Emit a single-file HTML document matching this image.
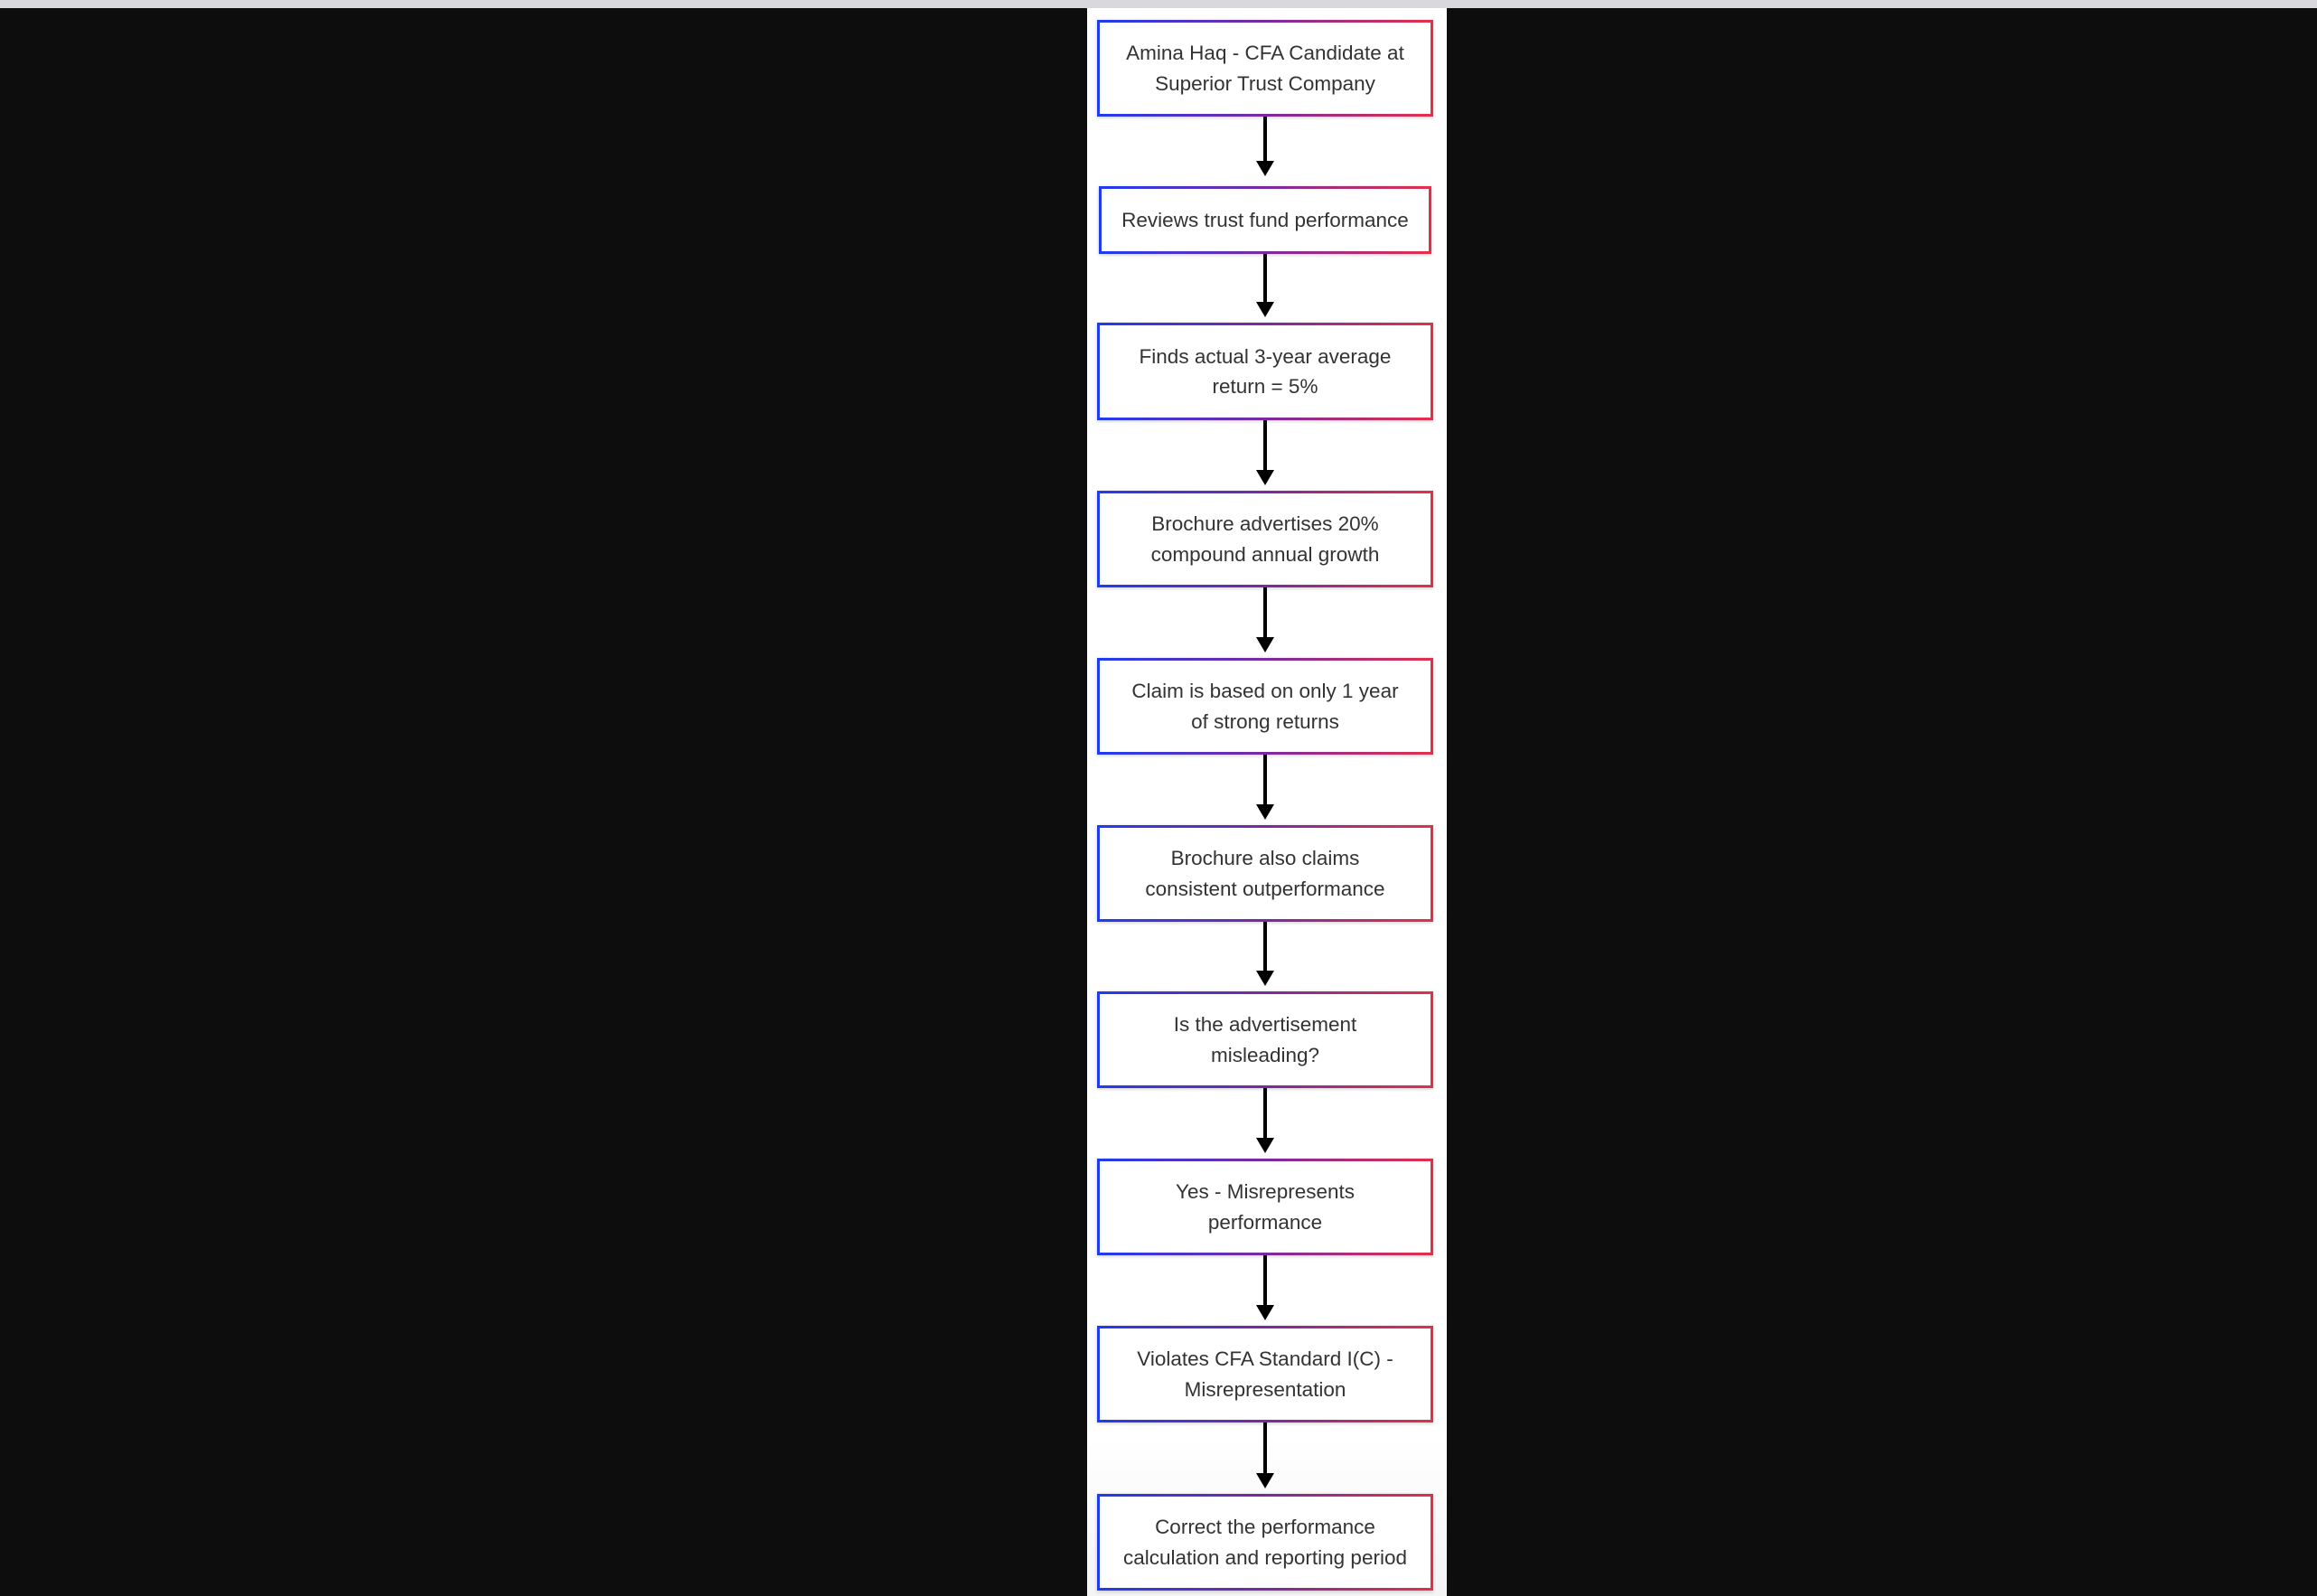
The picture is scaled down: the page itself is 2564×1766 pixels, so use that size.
<!DOCTYPE html>
<html><head><meta charset="utf-8"><style>
html,body{margin:0;padding:0}
body{width:2564px;height:1766px;background:#0d0d0d;position:relative;overflow:hidden;font-family:"Liberation Sans",Arial,sans-serif}
.top{position:absolute;left:0;top:0;width:2564px;height:9px;background:#d9d9dd}
.panel{position:absolute;left:1203px;top:9px;width:398px;height:1757px;background:linear-gradient(#fff 90%,#f4f4f4)}
.box{position:absolute;left:1214px;width:372px;box-sizing:border-box;padding:3px;background:linear-gradient(90deg,#1f3cf0,#7a2aa0 50%,#e3304a);box-shadow:0 1px 4px rgba(0,0,0,.2)}
.in{background:#fff;height:100%;display:flex;align-items:center;justify-content:center;text-align:center;color:#333;font-size:22.5px;line-height:33.5px;padding:0 20px}
.ln{position:absolute;left:1398px;width:4px;background:#000}
.ah{position:absolute;left:1390px;width:0;height:0;border-left:10px solid transparent;border-right:10px solid transparent;border-top:17px solid #000}
</style></head><body>
<div class="top"></div><div class="panel"></div>
<div class="box" style="top:22px;height:107px"><div class="in">Amina Haq - CFA Candidate at<br>Superior Trust Company</div></div>
<div class="box" style="top:206px;height:75px;left:1216px;width:368px"><div class="in">Reviews trust fund performance</div></div>
<div class="box" style="top:357px;height:108px"><div class="in">Finds actual 3-year average<br>return = 5%</div></div>
<div class="box" style="top:543px;height:107px"><div class="in">Brochure advertises 20%<br>compound annual growth</div></div>
<div class="box" style="top:728px;height:107px"><div class="in">Claim is based on only 1 year<br>of strong returns</div></div>
<div class="box" style="top:913px;height:107px"><div class="in">Brochure also claims<br>consistent outperformance</div></div>
<div class="box" style="top:1097px;height:107px"><div class="in">Is the advertisement<br>misleading?</div></div>
<div class="box" style="top:1282px;height:107px"><div class="in">Yes - Misrepresents<br>performance</div></div>
<div class="box" style="top:1467px;height:107px"><div class="in">Violates CFA Standard I(C) -<br>Misrepresentation</div></div>
<div class="box" style="top:1653px;height:107px"><div class="in">Correct the performance<br>calculation and reporting period</div></div>

<div class="ln" style="top:129px;height:49px"></div><div class="ah" style="top:178px"></div>
<div class="ln" style="top:281px;height:53px"></div><div class="ah" style="top:334px"></div>
<div class="ln" style="top:465px;height:55px"></div><div class="ah" style="top:520px"></div>
<div class="ln" style="top:650px;height:55px"></div><div class="ah" style="top:705px"></div>
<div class="ln" style="top:835px;height:55px"></div><div class="ah" style="top:890px"></div>
<div class="ln" style="top:1020px;height:54px"></div><div class="ah" style="top:1074px"></div>
<div class="ln" style="top:1204px;height:55px"></div><div class="ah" style="top:1259px"></div>
<div class="ln" style="top:1389px;height:55px"></div><div class="ah" style="top:1444px"></div>
<div class="ln" style="top:1574px;height:56px"></div><div class="ah" style="top:1630px"></div>
</body></html>
